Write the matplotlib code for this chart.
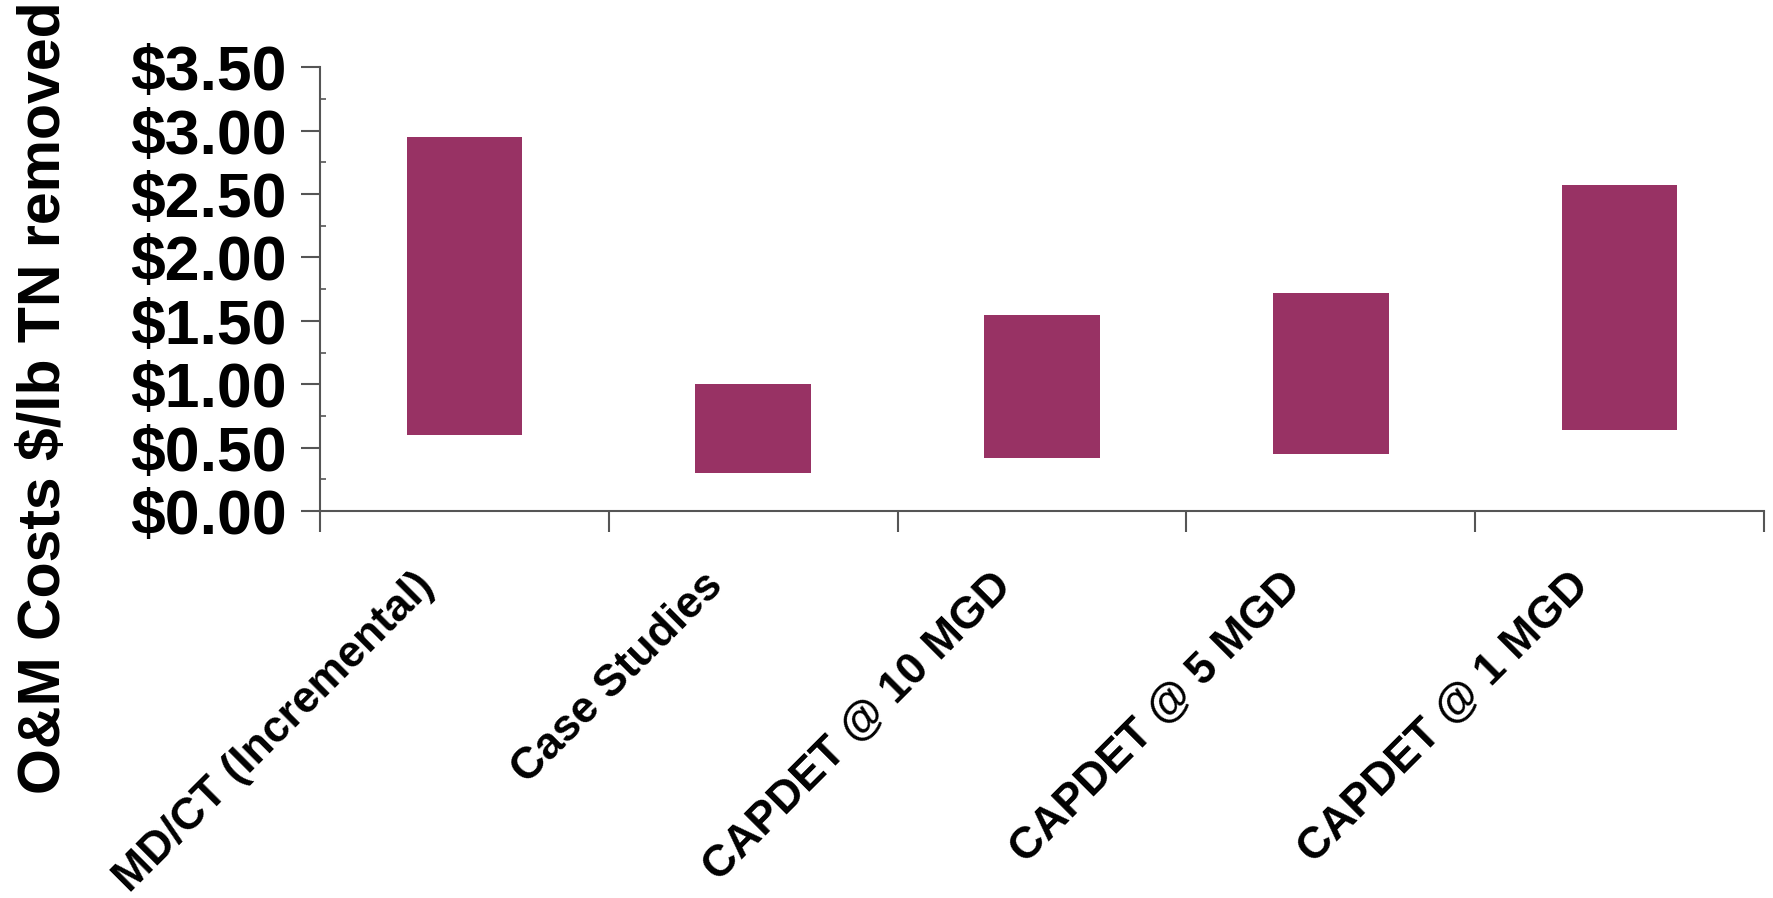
import matplotlib
matplotlib.use("Agg")
import matplotlib.pyplot as plt
import matplotlib.transforms as mtransforms
from matplotlib.ticker import MultipleLocator, FuncFormatter

# floating bars: low / high O&M cost per lb TN removed
categories = ["MD/CT (Incremental)", "Case Studies", "CAPDET @ 10 MGD",
              "CAPDET @ 5 MGD", "CAPDET @ 1 MGD"]
low = [0.60, 0.30, 0.42, 0.45, 0.64]
high = [2.95, 1.00, 1.55, 1.72, 2.57]
yticks = [0.0, 0.5, 1.0, 1.5, 2.0, 2.5, 3.0, 3.5]

bar_color = "#983264"
axis_color = "#555555"

plt.rcParams["font.family"] = ["Liberation Sans", "DejaVu Sans"]
plt.rcParams["font.weight"] = "bold"

fig = plt.figure(figsize=(17.73, 8.98), dpi=100)
ax = fig.add_axes([0.1805, 0.431, 0.8145, 0.494])

x = list(range(len(categories)))
ax.bar(x, [h - l for h, l in zip(high, low)], bottom=low, width=0.4,
       color=bar_color, edgecolor="none")

ax.set_xlim(-0.5, len(categories) - 0.5)
ax.set_ylim(0, 3.5)
ax.set_yticks(yticks)
ax.yaxis.set_major_formatter(FuncFormatter(lambda v, p: "${:.2f}".format(v)))
ax.yaxis.set_minor_locator(MultipleLocator(0.25))

# category boundaries get the tick marks, labels drawn separately
ax.set_xticks([i - 0.5 for i in range(len(categories) + 1)])
ax.set_xticklabels([])

for s in ["top", "right"]:
    ax.spines[s].set_visible(False)
for s in ["left", "bottom"]:
    ax.spines[s].set_color(axis_color)
    ax.spines[s].set_linewidth(1.5)

ax.tick_params(axis="y", which="major", length=14, width=1.5, color=axis_color,
               labelsize=45, pad=10)
ax.tick_params(axis="y", which="minor", direction="in", length=4, width=1.2,
               color=axis_color)
ax.tick_params(axis="x", which="major", length=15, width=1.5, color=axis_color)

trans = mtransforms.blended_transform_factory(ax.transData, ax.transAxes)
offset = mtransforms.ScaledTranslation(-22 / 100, -54 / 100, fig.dpi_scale_trans)
for i, lab in enumerate(categories):
    ax.text(i, 0, lab, transform=trans + offset, rotation=45, ha="right",
            va="top", fontsize=32, fontweight="bold")

ax.set_ylabel("O&M Costs $/lb TN removed", fontsize=42.5, fontweight="bold")
ax.yaxis.set_label_coords(-0.172, 0.255)

fig.savefig("out.png", dpi=100)
